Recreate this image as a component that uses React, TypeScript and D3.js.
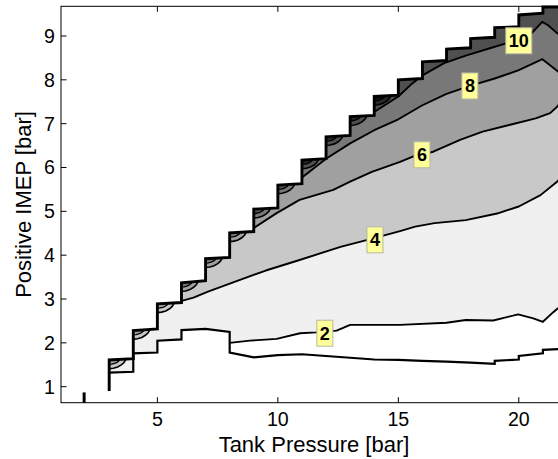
import React from 'react';
import * as d3 from 'd3';

// ---------- data (bar) ----------
const xTickValues = [5, 10, 15, 20];
const yTickValues = [1, 2, 3, 4, 5, 6, 7, 8, 9];

// staircase upper edge of the data region (tank pressure steps)
const stepX = [3, 4, 5, 6, 7, 8, 9, 10, 11, 12, 13, 14, 15, 16, 17, 18, 19, 20, 21];
const stepTopStart = [1.61, 2.28, 2.89, 3.37, 3.92, 4.51, 5.05, 5.6, 6.17, 6.7, 7.16, 7.62, 8.0, 8.41, 8.7, 8.94, 9.19, 9.48, 9.66];
const stepTopEnd = [1.64, 2.32, 2.92, 3.42, 3.95, 4.54, 5.08, 5.63, 6.2, 6.73, 7.19, 7.65, 8.03, 8.44, 8.73, 8.97, 9.21, 9.52, 9.66];
const staircaseBottomY = 0.9;

// lower edge of the data region
const lowerX = [3, 4, 4, 5, 5, 6, 6, 7, 8, 8, 9, 10, 11, 12, 13, 14, 15, 16, 17, 18, 19, 19, 20, 20, 21, 21, 22];
const lowerY = [1.32, 1.34, 1.76, 1.78, 2.05, 2.08, 2.29, 2.32, 2.25, 1.78, 1.67, 1.72, 1.74, 1.7, 1.66, 1.62, 1.61, 1.59, 1.57, 1.55, 1.52, 1.59, 1.62, 1.7, 1.76, 1.84, 1.87];

// contour lines
const line2X = [8, 8.84, 9.95, 10.92, 11.6, 12.44, 13.0, 15.07, 17.0, 17.8, 18.94, 19.97, 20.6, 21.0, 21.43, 21.6, 22];
const line2Y = [2.0, 2.05, 2.09, 2.22, 2.24, 2.28, 2.41, 2.41, 2.46, 2.52, 2.51, 2.65, 2.56, 2.48, 2.7, 2.78, 2.9];
const line4X = [5.9, 6.5, 7.1, 8.4, 9.5, 10.9, 12.6, 13.8, 15.07, 15.7, 16.5, 17.8, 19.1, 20.0, 20.9, 21.6, 22];
const line4Y = [2.94, 3.03, 3.17, 3.43, 3.65, 3.89, 4.19, 4.36, 4.55, 4.65, 4.73, 4.8, 4.95, 5.11, 5.37, 5.68, 5.95];
const line6X = [8.95, 9.5, 9.95, 10.9, 12.3, 13.0, 13.9, 15.07, 15.6, 16.45, 17.56, 18.5, 19.6, 20.7, 21.3, 21.6, 22];
const line6Y = [4.6, 4.8, 4.96, 5.26, 5.49, 5.68, 5.9, 6.13, 6.25, 6.36, 6.63, 6.82, 6.97, 7.12, 7.24, 7.39, 7.7];
const line8X = [10.95, 12, 13, 14, 15, 16, 17, 17.97, 19, 20, 20.98, 21.6, 22];
const line8Y = [5.75, 6.2, 6.55, 6.85, 7.1, 7.42, 7.68, 7.86, 8.03, 8.22, 8.47, 8.2, 8.05];
const line10X = [13.95, 15, 15.5, 16, 16.9, 17.8, 18.8, 19.47, 20.53, 20.97, 21.2, 21.6, 22];
const line10Y = [7.25, 7.62, 7.88, 8.1, 8.38, 8.55, 8.72, 8.83, 9.06, 9.32, 9.25, 9.06, 8.95];

// small corner lenses at the steps
const lensSteps = [3, 4, 5, 6, 7, 8, 9, 10, 11, 12, 13, 14];

// contour labels
const labelText = ['2', '4', '6', '8', '10'];
const labelX = [11.95, 14.03, 15.98, 17.97, 20.0];
const labelY = [2.22, 4.35, 6.29, 7.86, 8.89];

// stray segment near the bottom axis
const strayX = 1.96;
const strayY = [0.635, 0.87];

// ---------- styling ----------
const W = 558;
const H = 459;
const bandColors = ['#ffffff', '#f0f0f0', '#c8c8c8', '#a0a0a0', '#787878', '#505050', '#282828', '#101010'];
const lensProfile: [number, number][] = [[0, 1], [0.25, 0.97], [0.5, 0.86], [0.72, 0.64], [0.88, 0.38], [1, 0]];
const FONT = "'Liberation Sans', Arial, Helvetica, sans-serif";

type P = [number, number];
const zip = (a: number[], b: number[]): P[] => a.map((v, i) => [v, b[i]] as P);

export default function App() {
  const x = d3.scaleLinear().domain([1, 22]).range([61, 567]);
  const y = d3.scaleLinear().domain([0.635, 9.677]).range([402.7, 6.3]);
  const line = d3.line<P>().x((d) => x(d[0])).y((d) => y(d[1]));

  const topPts: P[] = [];
  stepX.forEach((sx, i) => {
    topPts.push([sx, stepTopStart[i]]);
    topPts.push([sx + 1, stepTopEnd[i]]);
  });
  const lowerPts = zip(lowerX, lowerY);
  const region: P[] = [[lowerX[0], lowerY[0]], ...topPts, ...lowerPts.slice().reverse()];
  const staircase: P[] = [[stepX[0], staircaseBottomY], ...topPts];

  const topAt = (xx: number) => {
    const i = Math.max(0, Math.min(stepX.length - 1, Math.floor(xx) - stepX[0]));
    const t = xx - stepX[i];
    return stepTopStart[i] + (stepTopEnd[i] - stepTopStart[i]) * t;
  };

  const lines = [zip(line2X, line2Y), zip(line4X, line4Y), zip(line6X, line6Y), zip(line8X, line8Y), zip(line10X, line10Y)];
  const interp = lines.map((pts) => d3.scaleLinear().domain(pts.map((p) => p[0])).range(pts.map((p) => p[1])).clamp(true));

  const Ytop = 12;
  const Ybot = 0;
  const abovePoly = (pts: P[]): P[] => [...pts, [pts[pts.length - 1][0] + 1, pts[pts.length - 1][1]], [pts[pts.length - 1][0] + 1, Ytop], [pts[0][0], Ytop]];
  const belowPoly = (pts: P[]): P[] => [...pts, [pts[pts.length - 1][0] + 1, Ybot], [pts[0][0], Ybot]];

  const bandAt = (xx: number, yy: number) => {
    let b = 1;
    lines.forEach((pts, li) => {
      if (li === 0) return;
      if (xx >= pts[0][0] && interp[li](xx) < yy) b = li + 1;
    });
    return b;
  };

  const lensPath = (k: number, w: number, h: number) => {
    const top0 = topAt(k);
    const pts: P[] = lensProfile.map(([t, f]) => [k + w * t, topAt(k + w * t) - h * f] as P);
    const closed: P[] = [...pts, [k, top0]];
    return { fill: line(closed) + 'Z', stroke: line(pts) as string };
  };

  const lenses = lensSteps.map((k, i) => {
    const base = bandAt(k + 0.3, topAt(k + 0.3) - 0.02);
    const outer = lensPath(k, 0.7, 0.2);
    const inner = lensPath(k, 0.45, 0.1);
    return { k, base, outer, inner, i };
  });

  return (
    <div style={{ position: 'fixed', left: 0, top: 0, width: W, height: H, overflow: 'hidden', background: '#fff' }}>
      <svg width={W} height={H} style={{ display: 'block' }}>
        <defs>
          <clipPath id="dataRegion">
            <path d={line(region) + 'Z'} />
          </clipPath>
        </defs>
        <g clipPath="url(#dataRegion)">
          <rect x={0} y={0} width={W + 50} height={H} fill={bandColors[1]} />
          <path d={line(belowPoly(lines[0])) + 'Z'} fill={bandColors[0]} />
          {lines.slice(1).map((pts, i) => (
            <path key={'f' + i} d={line(abovePoly(pts)) + 'Z'} fill={bandColors[i + 2]} />
          ))}
          {lenses.map((l) => (
            <g key={'lens' + l.i}>
              <path d={l.outer.fill} fill={bandColors[Math.min(l.base + 1, 7)]} />
              <path d={l.inner.fill} fill={bandColors[Math.min(l.base + 2, 7)]} />
              <path d={l.outer.stroke} fill="none" stroke="#000" strokeWidth={1.6} />
              <path d={l.inner.stroke} fill="none" stroke="#000" strokeWidth={1.3} />
            </g>
          ))}
          {lines.map((pts, i) => (
            <path key={'l' + i} d={line(pts) as string} fill="none" stroke="#000" strokeWidth={1.9} strokeLinejoin="round" />
          ))}
        </g>
        <path d={line(lowerPts) as string} fill="none" stroke="#000" strokeWidth={2.2} strokeLinejoin="miter" />
        <path d={line(staircase) as string} fill="none" stroke="#000" strokeWidth={2.9} strokeLinejoin="miter" />
        <line x1={x(strayX)} x2={x(strayX)} y1={y(strayY[0])} y2={y(strayY[1])} stroke="#000" strokeWidth={3} />

        {/* axes box */}
        <rect x={x(1)} y={y(9.677)} width={x(22) - x(1)} height={y(0.635) - y(9.677)} fill="none" stroke="#000" strokeWidth={1} />
        {xTickValues.map((t) => (
          <g key={'xt' + t}>
            <line x1={x(t)} x2={x(t)} y1={y(0.635)} y2={y(0.635) - 5.5} stroke="#000" />
            <line x1={x(t)} x2={x(t)} y1={y(9.677)} y2={y(9.677) + 5.5} stroke="#000" />
            <text x={x(t)} y={426} textAnchor="middle" fontFamily={FONT} fontSize={19.6} fill="#000">{t}</text>
          </g>
        ))}
        {yTickValues.map((t) => (
          <g key={'yt' + t}>
            <line x1={x(1)} x2={x(1) + 5.5} y1={y(t)} y2={y(t)} stroke="#000" />
            <line x1={x(22)} x2={x(22) - 5.5} y1={y(t)} y2={y(t)} stroke="#000" />
            <text x={55} y={y(t)} dy="0.355em" textAnchor="end" fontFamily={FONT} fontSize={19.6} fill="#000">{t}</text>
          </g>
        ))}
        <text x={(x(1) + x(22)) / 2} y={452} textAnchor="middle" fontFamily={FONT} fontSize={22} fill="#000">Tank Pressure [bar]</text>
        <text transform={`translate(31,${(y(0.635) + y(9.677)) / 2}) rotate(-90)`} textAnchor="middle" fontFamily={FONT} fontSize={22} fill="#000">Positive IMEP [bar]</text>

        {/* contour labels */}
        {labelText.map((t, i) => {
          const w = t.length * 10 + 6;
          const h = 26;
          return (
            <g key={'lab' + i}>
              <rect x={x(labelX[i]) - w / 2} y={y(labelY[i]) - h / 2} width={w} height={h} fill="#ffff99" stroke="#b8b8a0" strokeWidth={1} />
              <text x={x(labelX[i])} y={y(labelY[i])} dy="0.36em" textAnchor="middle" fontFamily={FONT} fontWeight="bold" fontSize={18} fill="#000">{t}</text>
            </g>
          );
        })}
      </svg>
    </div>
  );
}
